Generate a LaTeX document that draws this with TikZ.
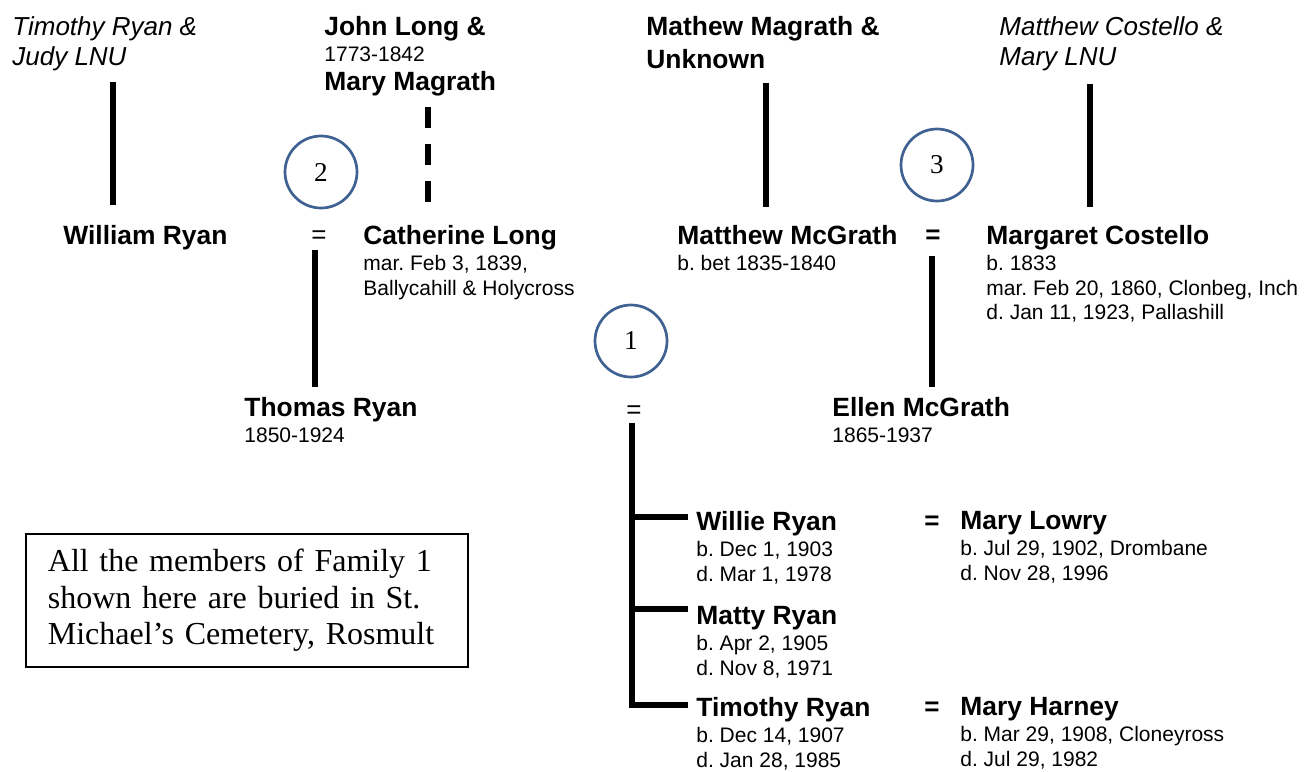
\documentclass[tikz,border=0pt]{standalone}
\usepackage{fontspec}
\setmainfont{Liberation Serif}
\setsansfont{Liberation Sans}
\definecolor{myblue}{RGB}{63,98,146}
\newcommand{\PName}[1]{{\fontsize{13.2}{13}\selectfont\bfseries #1}}

\begin{document}
\frenchspacing
\begin{tikzpicture}[x=0.5pt,y=0.5pt]
\tikzset{PersonStyle/.style={anchor=north west,inner sep=0pt,align=left,
  font=\sffamily\fontsize{10.5}{12.25}\selectfont}}
\tikzset{ParentStyle/.style={PersonStyle,font=\sffamily\itshape\fontsize{13}{15.25}\selectfont}}
\tikzset{MarryStyle/.style={inner sep=0pt,font=\sffamily\fontsize{13}{13}\selectfont}}
\tikzset{BoldMarryStyle/.style={MarryStyle,font=\sffamily\bfseries\fontsize{13}{13}\selectfont}}
\tikzset{FamilyStyle/.style={circle,draw=myblue,line width=1.35pt,minimum size=36pt,
  inner sep=0pt,font=\fontsize{13.6}{13}\selectfont}}
\tikzset{NoteStyle/.style={draw,anchor=north west,line width=0.9pt,text width=199pt,
  inner xsep=11pt,inner ysep=0pt,minimum height=66.5pt,align=left,
  font=\fontsize{16}{18.35}\selectfont}}
\tikzset{LineStyle/.style={line width=2.6pt}}
\useasboundingbox (0,0) rectangle (1304,-771);
% grandparents
\node[ParentStyle] (TJ) at (12,-16) {Timothy Ryan \&\\Judy LNU};
\node[PersonStyle] (JM) at (324,-16) {\PName{John Long \&}\\[0.75pt]1773-1842\\[2.25pt]\PName{Mary Magrath}};
\node[PersonStyle] (MU) at (646,-16) {\PName{Mathew Magrath \&}\\[3pt]\PName{Unknown}};
\node[ParentStyle] (MM) at (999,-16) {Matthew Costello \&\\Mary LNU};
% parents
\node[PersonStyle] (WR) at (63,-225) {\PName{William Ryan}};
\node[MarryStyle] (E2) at (319,-237) {=};
\node[PersonStyle] (CL) at (363,-225) {\PName{Catherine Long}\\[0.75pt]mar. Feb 3, 1839,\\Ballycahill \& Holycross};
\node[PersonStyle] (MG) at (677,-225) {\PName{Matthew McGrath}\\[0.75pt]b. bet 1835-1840};
\node[BoldMarryStyle] (E3) at (933,-237) {=};
\node[PersonStyle] (MC) at (986,-225) {\PName{Margaret Costello}\\[0.75pt]b. 1833\\mar. Feb 20, 1860, Clonbeg, Inch\\d. Jan 11, 1923, Pallashill};
\node[FamilyStyle] (F2) at (321,-172) {2};
\node[FamilyStyle] (F3) at (937,-165) {3};
% family 1
\node[PersonStyle] (TR) at (244,-397) {\PName{Thomas Ryan}\\[0.75pt]1850-1924};
\node[MarryStyle] (E1) at (634,-412) {=};
\node[PersonStyle] (EM) at (832,-397) {\PName{Ellen McGrath}\\[0.75pt]1865-1937};
\node[FamilyStyle] (F1) at (631,-341) {1};
% children
\node[PersonStyle] (WI) at (696,-511) {\PName{Willie Ryan}\\[0.75pt]b. Dec 1, 1903\\d. Mar 1, 1978};
\node[BoldMarryStyle] (EW) at (932,-523) {=};
\node[PersonStyle] (ML) at (960,-511) {\PName{Mary Lowry}\\[0.75pt]b. Jul 29, 1902, Drombane\\d. Nov 28, 1996};
\node[PersonStyle] (MR) at (696,-606) {\PName{Matty Ryan}\\[0.75pt]b. Apr 2, 1905\\d. Nov 8, 1971};
\node[PersonStyle] (TI) at (696,-697) {\PName{Timothy Ryan}\\[0.75pt]b. Dec 14, 1907\\d. Jan 28, 1985};
\node[BoldMarryStyle] (ET) at (932,-709) {=};
\node[PersonStyle] (MH) at (960,-697) {\PName{Mary Harney}\\[0.75pt]b. Mar 29, 1908, Cloneyross\\d. Jul 29, 1982};
\node[NoteStyle] (N) at (25,-533) {All the members of Family 1\\shown here are buried in St.\\Michael's Cemetery, Rosmult};
% line ends
\coordinate (TJd) at (113,-82);   \coordinate (WRu) at (113,-205);
\coordinate (JMd) at (428,-107);  \coordinate (CLu) at (428,-205);
\coordinate (MUd) at (766,-83);   \coordinate (MGu) at (766,-207);
\coordinate (MMd) at (1090,-84);  \coordinate (MCu) at (1090,-207);
\coordinate (E2d) at (315,-250);  \coordinate (TRu) at (315,-387);
\coordinate (E3d) at (932,-256);  \coordinate (EMu) at (932,-387);
\coordinate (E1d) at (632,-423);
\coordinate (WIl) at (688,-517);
\coordinate (MRl) at (688,-609);
\coordinate (TIl) at (688,-705);
\draw[LineStyle] (TJd) -- (WRu);
\draw[LineStyle,dash pattern=on 10.5pt off 8pt] (JMd) -- (CLu);
\draw[LineStyle] (MUd) -- (MGu);
\draw[LineStyle] (MMd) -- (MCu);
\draw[LineStyle] (E2d) -- (TRu);
\draw[LineStyle] (E3d) -- (EMu);
\draw[LineStyle] (E1d) |- (TIl);
\draw[LineStyle] (E1d |- WIl) -- (WIl);
\draw[LineStyle] (E1d |- MRl) -- (MRl);
\end{tikzpicture}
\end{document}
